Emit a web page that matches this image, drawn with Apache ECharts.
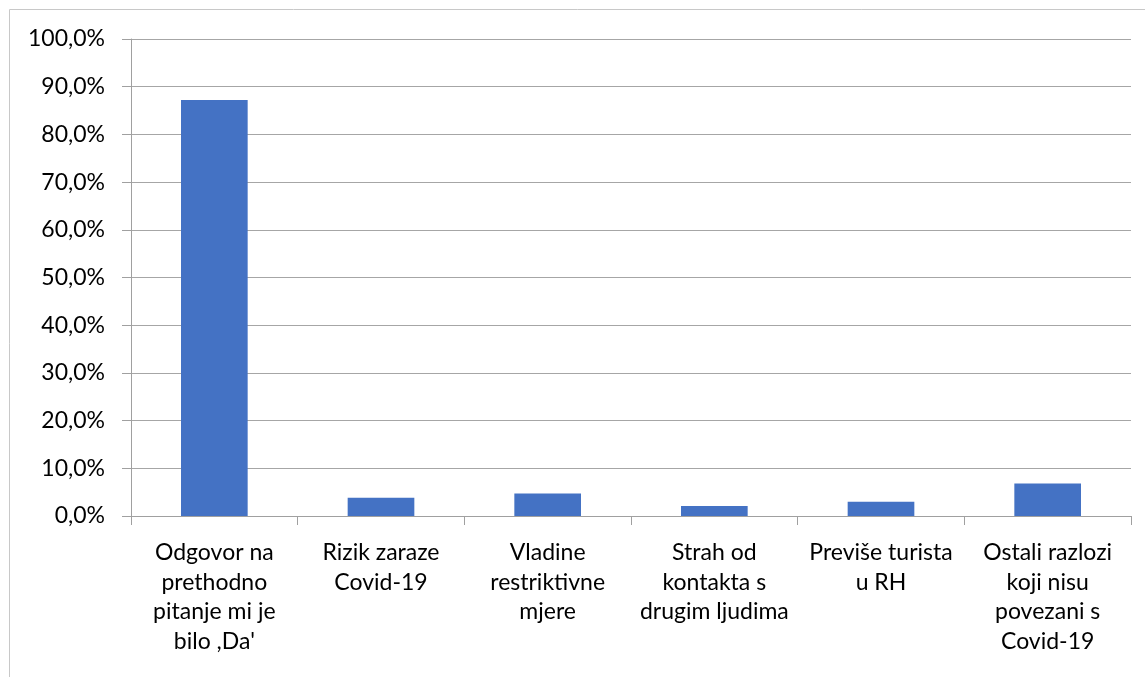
<!DOCTYPE html>
<html>
<head>
<meta charset="utf-8">
<script src="https://cdn.jsdelivr.net/npm/echarts@6/dist/echarts.min.js"></script>
<style>
html, body { margin: 0; padding: 0; background: #fff; }
#chart { width: 1145px; height: 677px; }
</style>
</head>
<body>
<div id="chart"></div>
<script>
var categories = [
    'Odgovor na\nprethodno\npitanje mi je\nbilo ,Da\'',
    'Rizik zaraze\nCovid-19',
    'Vladine\nrestriktivne\nmjere',
    'Strah od\nkontakta s\ndrugim ljudima',
    'Previše turista\nu RH',
    'Ostali razlozi\nkoji nisu\npovezani s\nCovid-19'
];
var values = [87.2, 3.8, 4.7, 2.1, 3.0, 6.8];

var myChart = echarts.init(document.getElementById('chart'));

var option = {
    animation: false,
    textStyle: { fontFamily: 'Lato' },
    graphic: [{
        type: 'rect',
        shape: { x: 9.5, y: 9.5, width: 1200, height: 700 },
        style: { fill: 'none', stroke: '#c8c8c8', lineWidth: 1 },
        silent: true
    }],
    grid: {
        left: 131,
        right: 14,
        top: 39,
        bottom: 161
    },
    xAxis: {
        type: 'category',
        data: categories,
        axisLine: { lineStyle: { color: '#a0a0a0', width: 1 } },
        axisTick: { show: true, length: 9, lineStyle: { color: '#a0a0a0' } },
        axisLabel: {
            interval: 0,
            margin: 22,
            color: '#000',
            fontSize: 23,
            lineHeight: 29.5,
            fontFamily: 'Lato'
        }
    },
    yAxis: {
        type: 'value',
        min: 0,
        max: 100,
        interval: 10,
        axisLine: { show: true, lineStyle: { color: '#a0a0a0', width: 1 } },
        axisTick: { show: true, length: 9, lineStyle: { color: '#a0a0a0' } },
        splitLine: { lineStyle: { color: '#a6a6a6', width: 1 } },
        axisLabel: {
            margin: 26,
            color: '#000',
            fontSize: 23,
            fontFamily: 'Lato',
            formatter: function (v) { return v.toFixed(1).replace('.', ',') + '%'; }
        }
    },
    series: [{
        type: 'bar',
        data: values,
        barCategoryGap: '60%',
        itemStyle: { color: '#4472C4' }
    }]
};

myChart.setOption(option);
</script>
</body>
</html>
